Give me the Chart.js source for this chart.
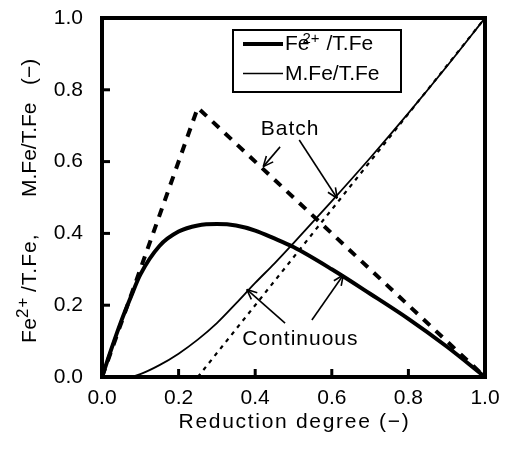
<!DOCTYPE html>
<html>
<head>
<meta charset="utf-8">
<script src="https://cdn.jsdelivr.net/npm/chart.js@4.4.1/dist/chart.umd.min.js"></script>
<style>
html,body{margin:0;padding:0;background:#fff;}
canvas{display:block;}
</style>
</head>
<body>
<canvas id="c" width="510" height="461"></canvas>
<script>
// ---- data ----
const reductionDegree = [0, 0.025, 0.05, 0.075, 0.1, 0.15, 0.2, 0.25, 0.3, 0.35, 0.4, 0.45, 0.5, 0.6, 0.7, 0.8, 0.9, 1.0];
const contFe2 = [0, 0.08, 0.155, 0.222, 0.285, 0.365, 0.405, 0.422, 0.426, 0.422, 0.408, 0.386, 0.362, 0.300, 0.232, 0.162, 0.085, 0];
const contMFe = [0, 0, 0, 0.001, 0.008, 0.033, 0.065, 0.104, 0.150, 0.205, 0.262, 0.316, 0.373, 0.490, 0.610, 0.735, 0.865, 1.0];
const batchFe2Deg = [0, 0.25, 1.0];
const batchFe2 = [0, 0.75, 0];
const batchMFeDeg = [0.25, 1.0];
const batchMFe = [0, 1.0];
const tickValues = [0, 0.2, 0.4, 0.6, 0.8, 1.0];
const xTitle = 'Reduction degree (\u2212)';
const annotTexts = ['Batch', 'Continuous'];
const annotLabelPos = [[0.491, 0.674], [0.518, 0.089]];
const annotArrows = [
  [[0.465, 0.641, 0.421, 0.586], [0.515, 0.660, 0.614, 0.498]],
  [[0.478, 0.150, 0.378, 0.244], [0.548, 0.159, 0.630, 0.284]]
];

const FONT = '"Liberation Sans", Arial, Helvetica, sans-serif';
const pts = (xs, ys) => xs.map((v, i) => ({x: v, y: ys[i]}));

function seg(ctx, text, x, y, size, ls) {
  ctx.font = size + 'px ' + FONT;
  try { ctx.letterSpacing = (ls || 0) + 'px'; } catch (e) {}
  ctx.fillText(text, x, y);
  const w = ctx.measureText(text).width;
  return x + w;
}
function line(ctx, x1, y1, x2, y2) {
  ctx.beginPath(); ctx.moveTo(x1, y1); ctx.lineTo(x2, y2); ctx.stroke();
}
function arrow(ctx, x1, y1, x2, y2) {
  line(ctx, x1, y1, x2, y2);
  const ang = Math.atan2(y2 - y1, x2 - x1), L = 11, sp = 0.42;
  line(ctx, x2, y2, x2 - L * Math.cos(ang - sp), y2 - L * Math.sin(ang - sp));
  line(ctx, x2, y2, x2 - L * Math.cos(ang + sp), y2 - L * Math.sin(ang + sp));
}

const decor = {
  id: 'decor',
  beforeDraw(chart) {
    const c = chart.ctx;
    c.save(); c.fillStyle = '#fff'; c.fillRect(0, 0, chart.width, chart.height); c.restore();
  },
  afterDraw(chart) {
    const ctx = chart.ctx, a = chart.chartArea, xs = chart.scales.x, ys = chart.scales.y;
    ctx.save();
    ctx.strokeStyle = '#000'; ctx.fillStyle = '#000';
    // frame
    ctx.lineWidth = 4;
    ctx.strokeRect(a.left, a.top, a.right - a.left, a.bottom - a.top);
    // inward ticks
    ctx.lineWidth = 3;
    tickValues.forEach(v => {
      if (v <= 0 || v >= 1) return;
      const px = xs.getPixelForValue(v);
      line(ctx, px, a.bottom, px, a.bottom - 8);
      const py = ys.getPixelForValue(v);
      line(ctx, a.left, py, a.left + 8, py);
    });
    // legend
    const lx = a.left + 131, ly = a.top + 12;
    ctx.lineWidth = 2;
    ctx.strokeRect(lx, ly, 168, 62);
    ctx.lineWidth = 4;
    line(ctx, a.left + 141, a.top + 26, a.left + 181, a.top + 26);
    ctx.lineWidth = 1.6;
    line(ctx, a.left + 141, a.top + 55.5, a.left + 181, a.top + 55.5);
    ctx.textBaseline = 'alphabetic'; ctx.textAlign = 'left';
    let tx = a.left + 183;
    seg(ctx, 'Fe', tx, a.top + 31.5, 21, 0);
    seg(ctx, '2+', a.left + 200.5, a.top + 24.5, 15, 0);
    seg(ctx, '/T.Fe', a.left + 224.5, a.top + 31.5, 21, 0);
    seg(ctx, 'M.Fe/T.Fe', tx, a.top + 62, 21, 0);
    // annotations
    ctx.lineWidth = 1.6;
    annotTexts.forEach((t, i) => {
      ctx.textAlign = 'center';
      seg(ctx, t, xs.getPixelForValue(annotLabelPos[i][0]), ys.getPixelForValue(annotLabelPos[i][1]), 21, 1);
      annotArrows[i].forEach(ar => {
        arrow(ctx, xs.getPixelForValue(ar[0]), ys.getPixelForValue(ar[1]),
                   xs.getPixelForValue(ar[2]), ys.getPixelForValue(ar[3]));
      });
    });
    // x title
    ctx.textAlign = 'center';
    seg(ctx, xTitle, (a.left + a.right) / 2 + 1, a.bottom + 51, 21, 1.7);
    // y title (rotated, with superscript)
    ctx.save();
    ctx.translate(a.left - 66, a.bottom - 34);
    ctx.rotate(-Math.PI / 2);
    ctx.textAlign = 'left';
    seg(ctx, 'Fe', 0, 0, 21, 0.5);
    seg(ctx, '2+', 25, -8, 17, 1);
    seg(ctx, '/T.Fe,', 51, 0, 21, 1);
    seg(ctx, 'M.Fe/T.Fe', 146, 0, 21, 0);
    seg(ctx, '(\u2212)', 258, 0, 21, 0);
    ctx.restore();
    ctx.restore();
  }
};

const tickFont = {size: 21, family: FONT};
new Chart(document.getElementById('c'), {
  type: 'line',
  data: {
    datasets: [
      {label: 'Batch Fe2+/T.Fe', data: pts(batchFe2Deg, batchFe2), borderColor: '#000', borderWidth: 4, borderDash: [9, 8], pointRadius: 0, tension: 0, fill: false},
      {label: 'Batch M.Fe/T.Fe', data: pts(batchMFeDeg, batchMFe), borderColor: '#000', borderWidth: 2.2, borderDash: [4, 5], pointRadius: 0, tension: 0, fill: false},
      {label: 'Continuous Fe2+/T.Fe', data: pts(reductionDegree, contFe2), borderColor: '#000', borderWidth: 4, pointRadius: 0, cubicInterpolationMode: 'monotone', fill: false},
      {label: 'Continuous M.Fe/T.Fe', data: pts(reductionDegree, contMFe), borderColor: '#000', borderWidth: 1.8, pointRadius: 0, cubicInterpolationMode: 'monotone', fill: false}
    ]
  },
  options: {
    responsive: false,
    animation: false,
    devicePixelRatio: 1,
    layout: {padding: {left: 0, right: 25, top: 18, bottom: 0}},
    plugins: {legend: {display: false}, tooltip: {enabled: false}, title: {display: false}},
    scales: {
      x: {
        type: 'linear', min: 0, max: 1,
        afterFit(s) { s.height = 84; s.paddingLeft = 0; s.paddingRight = 0; },
        afterBuildTicks(s) { s.ticks = tickValues.map(v => ({value: v})); },
        grid: {display: false, drawTicks: false},
        border: {display: false},
        ticks: {padding: 9, color: '#000', font: tickFont, maxRotation: 0, autoSkip: false, callback: v => Number(v).toFixed(1)}
      },
      y: {
        type: 'linear', min: 0, max: 1,
        afterFit(s) { s.width = 102; s.paddingTop = 0; s.paddingBottom = 0; },
        afterBuildTicks(s) { s.ticks = tickValues.map(v => ({value: v})); },
        grid: {display: false, drawTicks: false},
        border: {display: false},
        ticks: {padding: 19, color: '#000', font: tickFont, autoSkip: false, callback: v => Number(v).toFixed(1)}
      }
    }
  },
  plugins: [decor]
});
</script>
</body>
</html>
